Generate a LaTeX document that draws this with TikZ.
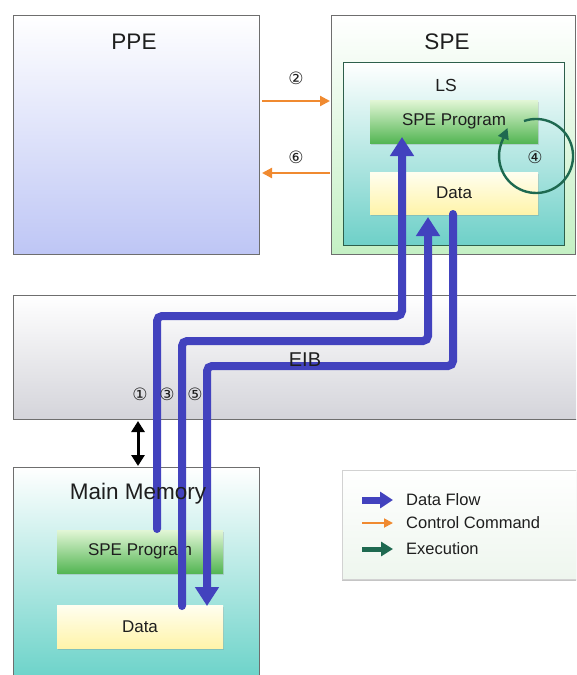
\documentclass[tikz,border=0pt]{standalone}
\usepackage{fontspec}
\setmainfont{Liberation Sans}
\newfontfamily\dvfont{DejaVu Sans}
\usetikzlibrary{arrows.meta,shadows}
\definecolor{flowc}{RGB}{66,66,190}
\definecolor{ctrlc}{RGB}{240,138,48}
\definecolor{execc}{RGB}{30,105,80}
\definecolor{ppebot}{RGB}{190,198,245}
\definecolor{spebot}{RGB}{196,240,196}
\definecolor{lsbot}{RGB}{110,208,200}
\definecolor{mmbot}{RGB}{105,210,200}
\definecolor{progtop}{RGB}{226,246,214}
\definecolor{progbot}{RGB}{84,182,84}
\definecolor{datatop}{RGB}{255,254,240}
\definecolor{databot}{RGB}{255,244,170}
\definecolor{eibbot}{RGB}{212,212,218}
\definecolor{framec}{RGB}{110,110,110}
\definecolor{lsframe}{RGB}{45,95,75}
\definecolor{txtc}{RGB}{30,30,30}
\definecolor{legbot}{RGB}{238,246,238}
\begin{document}
\begin{tikzpicture}[x=1pt,y=-1pt,
  box/.style={draw=framec, line width=1pt, inner sep=0pt, rectangle},
  subbox/.style={inner sep=0pt, rectangle, text=txtc, font=\fontsize{17}{20}\selectfont,
    drop shadow={opacity=0.25, shadow xshift=1pt, shadow yshift=-2pt}},
  progbox/.style={subbox, top color=progtop, bottom color=progbot},
  databox/.style={subbox, top color=datatop, bottom color=databot},
  title/.style={text=txtc, font=\fontsize{22.5}{26}\selectfont, inner sep=0pt},
  num/.style={text=txtc, font=\dvfont\fontsize{17}{19}\selectfont, inner sep=0pt},
  legtext/.style={text=txtc, font=\fontsize{16.5}{19}\selectfont, anchor=west, inner sep=0pt},
  flowline/.style={draw=flowc, line width=8pt, rounded corners=5pt, line cap=round,
    -{Triangle[width=23pt,length=19pt]}},
  ctrlline/.style={draw=ctrlc, line width=2.2pt, -{Triangle[width=10pt,length=10pt]}},
  execline/.style={draw=execc, line width=2.4pt},
  busline/.style={draw=black, line width=3pt, {Triangle[width=13pt,length=11pt]}-{Triangle[width=13pt,length=11pt]}}
]
\useasboundingbox (0,0) rectangle (576,675);
\clip (0,0) rectangle (576,675);
\fill[white] (0,0) rectangle (576,675);

% PPE
\node[box, top color=white, bottom color=ppebot, minimum width=246pt, minimum height=239pt] (ppe) at (136,134.5) {};
\node[title] (ppet) at (134,42) {PPE};

% SPE
\node[box, top color=white, bottom color=spebot, minimum width=244pt, minimum height=239pt] (spe) at (453,134.5) {};
\node[title] (spet) at (447,42) {SPE};
\node[box, draw=lsframe, top color=white, bottom color=lsbot, minimum width=221pt, minimum height=183pt] (ls) at (453.5,153.5) {};
\node[text=txtc, font=\fontsize{17.5}{20}\selectfont, inner sep=0pt] (lst) at (446,85) {LS};
\node[progbox, minimum width=168pt, minimum height=43pt] (lsprog) at (454,121.5) {SPE Program};
\node[databox, minimum width=168pt, minimum height=42pt] (lsdata) at (454,193) {Data};

% EIB
\node[box, top color=white, bottom color=eibbot, minimum width=580pt, minimum height=124pt] (eib) at (303,357) {};

% Main memory
\node[box, top color=white, bottom color=mmbot, minimum width=246pt, minimum height=216pt] (mm) at (136,575) {};
\node[progbox, minimum width=166pt, minimum height=43pt] (mmprog) at (140,551.5) {SPE Program};
\node[databox, minimum width=166pt, minimum height=43pt] (mmdata) at (140,626.5) {Data};

% control arrows
\coordinate (c2s) at (262,101);
\coordinate (c2e) at (330,101);
\coordinate (c6s) at (330,173);
\coordinate (c6e) at (262,173);
\draw[ctrlline] (c2s) -- (c2e);
\draw[ctrlline] (c6s) -- (c6e);
\node[num] (n2) at (296,78) {②};
\node[num] (n6) at (296,157) {⑥};

% execution loop
\coordinate (ex) at (524,121);
\coordinate (exe) at (501.2,143.3);
\coordinate (ext) at (507.5,128);
\draw[execline] (ex) arc[start angle=109, end angle=-200, radius=37pt];
\draw[execline, -{Triangle[width=11pt,length=11pt]}] (exe) -- (ext);
\node[num] (n4) at (535,157) {④};

% bus arrow
\coordinate (b1) at (138,421);
\coordinate (b2) at (138,466);
\draw[busline] (b1) -- (b2);

% data flows
\coordinate (f1a) at (157,529);
\coordinate (f1b) at (157,316);
\coordinate (f1c) at (402,316);
\coordinate (f1d) at (402,137);
\draw[flowline] (f1a) -- (f1b) -- (f1c) -- (f1d);
\coordinate (f3a) at (182,606);
\coordinate (f3b) at (182,341);
\coordinate (f3c) at (428,341);
\coordinate (f3d) at (428,217);
\draw[flowline] (f3a) -- (f3b) -- (f3c) -- (f3d);
\coordinate (f5a) at (453,214);
\coordinate (f5b) at (453,366);
\coordinate (f5c) at (207,366);
\coordinate (f5d) at (207,606);
\draw[flowline] (f5a) -- (f5b) -- (f5c) -- (f5d);

\node[text=txtc, font=\fontsize{20}{24}\selectfont, inner sep=0pt] (eibt) at (305,360) {EIB};
\node[num] (n1) at (140,394) {①};
\node[num] (n3) at (167,394) {③};
\node[num] (n5) at (195,394) {⑤};
\node[title] (mmt) at (138,494) {Main Memory};

% legend
\node[box, draw=gray!35, top color=white, bottom color=legbot, minimum width=240pt, minimum height=109pt,
  drop shadow={opacity=0.45, shadow xshift=0pt, shadow yshift=-2pt}] (legend) at (462,524.5) {};
\coordinate (l1a) at (362,500); \coordinate (l1b) at (393,500);
\coordinate (l2a) at (362,523); \coordinate (l2b) at (393,523);
\coordinate (l3a) at (362,549); \coordinate (l3b) at (393,549);
\draw[draw=flowc, line width=7pt, -{Triangle[width=16pt,length=13pt]}] (l1a) -- (l1b);
\draw[draw=ctrlc, line width=1.8pt, -{Triangle[width=9pt,length=9pt]}] (l2a) -- (l2b);
\draw[draw=execc, line width=5pt, -{Triangle[width=14pt,length=12pt]}] (l3a) -- (l3b);
\node[legtext] (lt1) at (406,500) {Data Flow};
\node[legtext] (lt2) at (406,523) {Control Command};
\node[legtext] (lt3) at (406,549) {Execution};
\end{tikzpicture}
\end{document}
